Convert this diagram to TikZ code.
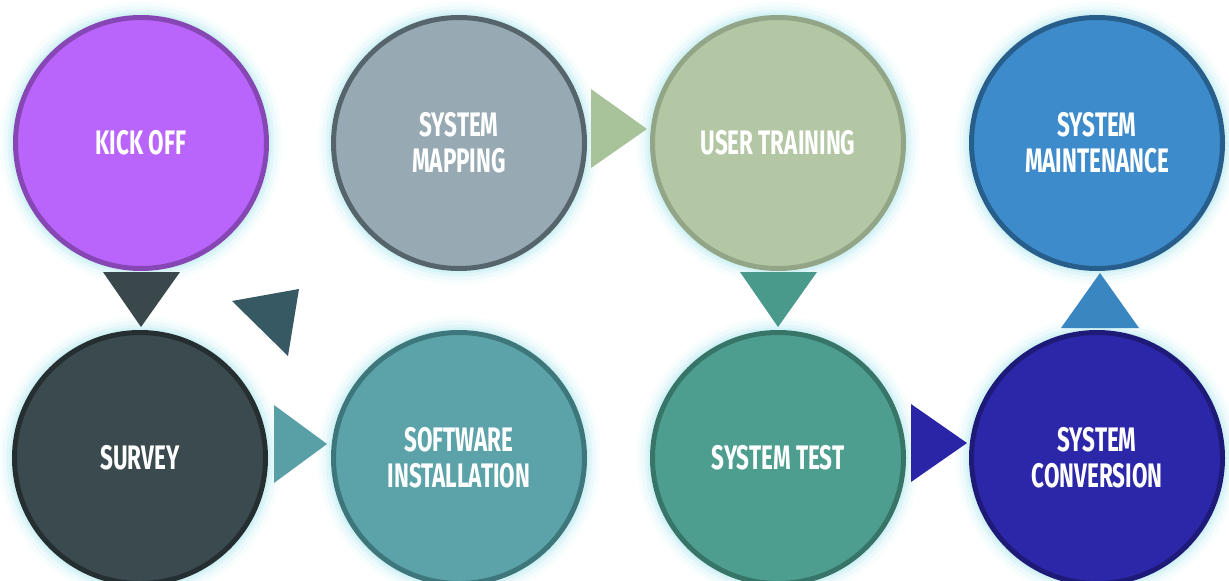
\documentclass[tikz,border=0pt]{standalone}
\usepackage{fontspec}
\newfontfamily\stepfont[FakeStretch=0.66]{Fira Sans}
\usetikzlibrary{calc, positioning}

\definecolor{glow}{HTML}{C6EEF2}
\definecolor{kickC}{HTML}{B964FA}   \definecolor{kickB}{HTML}{8646B4}
\definecolor{mapC}{HTML}{97AAB3}    \definecolor{mapB}{HTML}{56656C}
\definecolor{trainC}{HTML}{B3C7A5}  \definecolor{trainB}{HTML}{93A587}
\definecolor{maintC}{HTML}{3D8BCB}  \definecolor{maintB}{HTML}{285E8C}
\definecolor{surveyC}{HTML}{3B4A4F} \definecolor{surveyB}{HTML}{252F32}
\definecolor{softC}{HTML}{5BA3A8}   \definecolor{softB}{HTML}{3D777B}
\definecolor{testC}{HTML}{4E9E90}   \definecolor{testB}{HTML}{377569}
\definecolor{convC}{HTML}{2C27A8}   \definecolor{convB}{HTML}{1E1A78}

\begin{document}
\begin{tikzpicture}
		[x=1pt, y=-1pt,
		phase/.style = {circle, minimum size=251pt, inner sep=0pt, line width=5pt, text=white, align=center,
			font={\stepfont\bfseries\fontsize{34}{36}\selectfont},
			preaction={draw=glow, line width=32pt, draw opacity=0.12},
			preaction={draw=glow, line width=24pt, draw opacity=0.2},
			preaction={draw=glow, line width=16pt, draw opacity=0.35},
			preaction={draw=glow, line width=10pt, draw opacity=0.5}},
		tri/.style = {draw=none}]
		
		\useasboundingbox (0,0) rectangle (1229,581);
		
		\foreach \x/\y/\id/\fc/\bc/\name in {
			141/143/kickoff/kickC/kickB/{KICK OFF},
			459/143/mapping/mapC/mapB/{SYSTEM\\MAPPING},
			778/143/training/trainC/trainB/{USER TRAINING},
			1097/143/maintenance/maintC/maintB/{SYSTEM\\MAINTENANCE},
			140/458/survey/surveyC/surveyB/{SURVEY},
			459/458/software/softC/softB/{SOFTWARE\\INSTALLATION},
			778/458/test/testC/testB/{SYSTEM TEST},
			1097/458/conversion/convC/convB/{SYSTEM\\CONVERSION}}
		{
			\node[phase, fill=\fc, draw=\bc] (\id) at (\x,\y) {\name};
		}
		
		% arrows between the phases
		\fill[tri, fill={rgb,255:red,58;green,71;blue,75}] (103,272) -- (180,272) -- (141,327) -- cycle;
		\fill[tri, fill={rgb,255:red,54;green,89;blue,99}] (232,301) -- (299,289) -- (288,356) -- cycle;
		\fill[tri, fill={rgb,255:red,88;green,160;blue,165}] (274,405) -- (274,483) -- (327,444) -- cycle;
		\fill[tri, fill={rgb,255:red,168;green,195;blue,154}] (591,89) -- (591,168) -- (647,129) -- cycle;
		\fill[tri, fill={rgb,255:red,74;green,154;blue,140}] (740,272) -- (817,272) -- (778,327) -- cycle;
		\fill[tri, fill={rgb,255:red,42;green,37;blue,166}] (911,404) -- (911,482) -- (967,443) -- cycle;
		\fill[tri, fill={rgb,255:red,58;green,134;blue,192}] (1061,328) -- (1139,328) -- (1100,273) -- cycle;
		
	\end{tikzpicture}
\end{document}
